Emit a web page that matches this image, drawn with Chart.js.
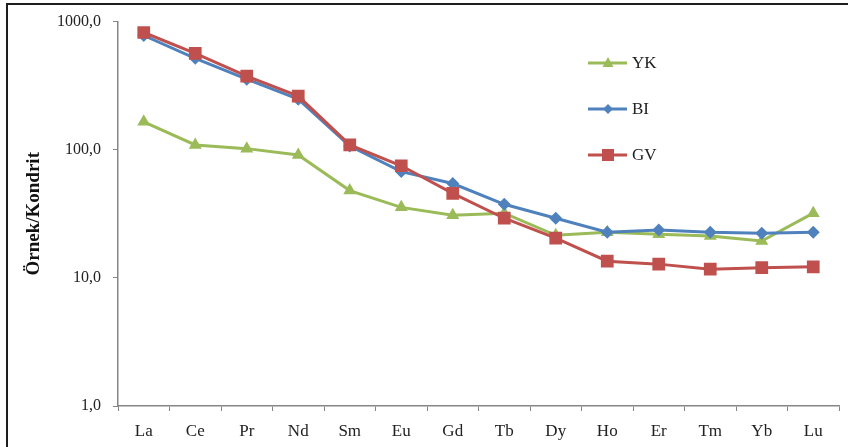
<!DOCTYPE html>
<html>
<head>
<meta charset="utf-8">
<script src="https://cdn.jsdelivr.net/npm/chart.js@4/dist/chart.umd.min.js"></script>
<style>
  html, body { margin: 0; padding: 0; background: #fff; }
  #wrap { position: relative; width: 848px; height: 447px; overflow: hidden; }
  #frame { position: absolute; left: 6px; top: 3px; width: 900px; height: 500px;
           border-left: 2px solid #1e1e1e; border-top: 2px solid #1e1e1e; pointer-events: none; }
</style>
</head>
<body>
<div id="wrap">
  <canvas id="reeChart" width="848" height="447"></canvas>
  <div id="frame"></div>
</div>
<script>
const elements = ['La', 'Ce', 'Pr', 'Nd', 'Sm', 'Eu', 'Gd', 'Tb', 'Dy', 'Ho', 'Er', 'Tm', 'Yb', 'Lu'];
const yk = [165, 109, 102, 91, 48, 35.5, 30.8, 32, 21.5, 22.7, 21.9, 21.2, 19.4, 32];
const bi = [779, 517, 355, 248, 107, 67.5, 54.5, 37.5, 29.2, 22.7, 23.6, 22.7, 22.3, 22.7];
const gv = [822, 565, 375, 262, 109, 75, 45.6, 29.2, 20.4, 13.5, 12.8, 11.7, 12.0, 12.2];
const yTicks = [1, 10, 100, 1000];

const serif = "'Liberation Serif', 'Times New Roman', serif";

// Legend drawn inside the plot, like the original
const sideLegend = {
  id: 'sideLegend',
  afterDraw: (chart) => {
    const { ctx } = chart;
    const rows = [63, 109, 155];
    ctx.save();
    chart.data.datasets.forEach((ds, i) => {
      const y = rows[i];
      ctx.strokeStyle = ds.borderColor;
      ctx.lineWidth = 3;
      ctx.beginPath();
      ctx.moveTo(588, y);
      ctx.lineTo(627, y);
      ctx.stroke();
      ctx.fillStyle = ds.pointBackgroundColor;
      ctx.beginPath();
      const x = 608;
      if (ds.pointStyle === 'triangle') {
        ctx.moveTo(x, y - 6);
        ctx.lineTo(x + 5.5, y + 4);
        ctx.lineTo(x - 5.5, y + 4);
      } else if (ds.pointStyle === 'rectRot') {
        ctx.moveTo(x - 5, y);
        ctx.lineTo(x, y - 5);
        ctx.lineTo(x + 5, y);
        ctx.lineTo(x, y + 5);
      } else {
        ctx.rect(x - 6, y - 6, 12, 12);
      }
      ctx.closePath();
      ctx.fill();
      ctx.fillStyle = '#222';
      ctx.font = '17px ' + serif;
      ctx.textBaseline = 'middle';
      ctx.textAlign = 'left';
      ctx.fillText(ds.label, 632, y + 1);
    });
    ctx.restore();
  }
};

const ctx = document.getElementById('reeChart').getContext('2d');
new Chart(ctx, {
  type: 'line',
  data: {
    labels: elements,
    datasets: [
      {
        label: 'YK', data: yk, order: 2,
        borderColor: '#9bbb59', backgroundColor: '#9bbb59', pointBackgroundColor: '#9bbb59',
        pointBorderColor: '#9bbb59', borderWidth: 3, pointStyle: 'triangle', pointRadius: 7.5,
        pointBorderWidth: 0, tension: 0
      },
      {
        label: 'BI', data: bi, order: 1,
        borderColor: '#4f81bd', backgroundColor: '#4f81bd', pointBackgroundColor: '#4f81bd',
        pointBorderColor: '#4f81bd', borderWidth: 3, pointStyle: 'rectRot', pointRadius: 6.5,
        pointBorderWidth: 0, tension: 0
      },
      {
        label: 'GV', data: gv, order: 0,
        borderColor: '#c0504d', backgroundColor: '#c0504d', pointBackgroundColor: '#c0504d',
        pointBorderColor: '#c0504d', borderWidth: 3, pointStyle: 'rect', pointRadius: 9,
        pointBorderWidth: 0, tension: 0
      }
    ]
  },
  options: {
    responsive: false,
    animation: false,
    layout: { padding: { left: 0, right: 9, top: 19, bottom: 0 } },
    plugins: {
      legend: { display: false },
      title: { display: false },
      tooltip: { enabled: false }
    },
    scales: {
      x: {
        offset: true,
        grid: { display: true, drawOnChartArea: false, offset: true, tickLength: 5, color: '#868686' },
        border: { display: true, color: '#868686', width: 1.5 },
        ticks: { font: { family: serif, size: 17 }, color: '#222', padding: 10, maxRotation: 0, autoSkip: false },
        afterFit: (scale) => { scale.height = 41; }
      },
      y: {
        type: 'logarithmic',
        min: 1,
        max: 1000,
        afterBuildTicks: (scale) => { scale.ticks = yTicks.map(v => ({ value: v, major: true })); },
        grid: { display: true, drawOnChartArea: false, tickLength: 5, color: '#868686' },
        border: { display: true, color: '#868686', width: 1.5 },
        ticks: {
          font: { family: serif, size: 16 },
          color: '#222',
          padding: 12,
          callback: (v) => v.toFixed(1).replace('.', ',')
        },
        title: {
          display: true,
          text: 'Örnek/Kondrit',
          font: { family: serif, size: 19, weight: 'bold' },
          color: '#111',
          padding: { top: 23, bottom: 0 }
        },
        afterFit: (scale) => { scale.width = 118; }
      }
    }
  },
  plugins: [sideLegend]
});
</script>
</body>
</html>
